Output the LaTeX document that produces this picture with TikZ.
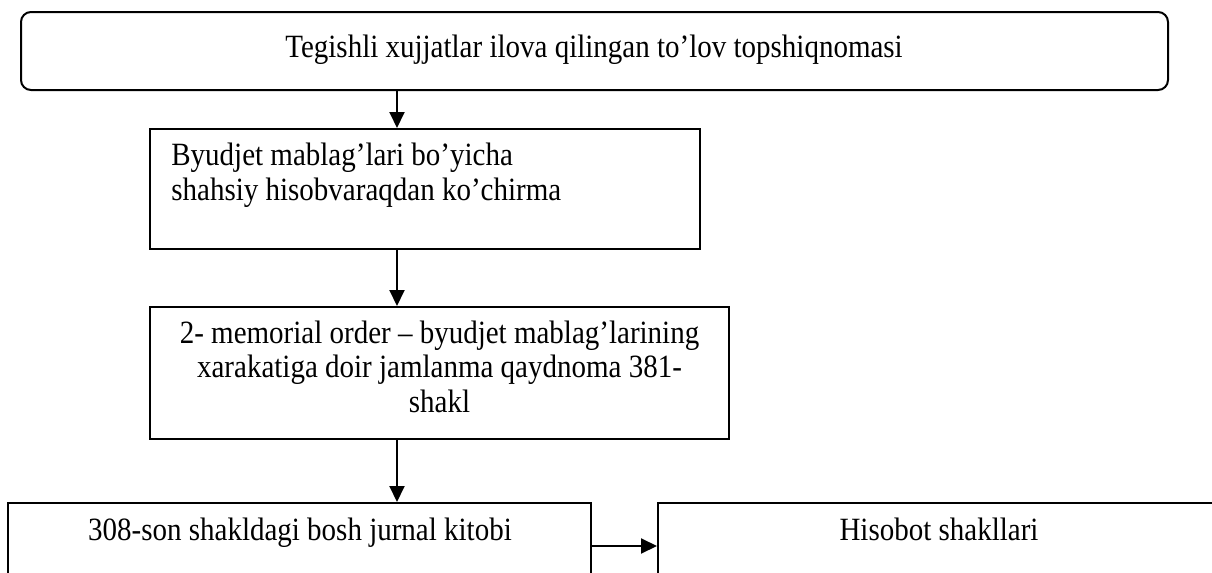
\documentclass[tikz,border=0pt]{standalone}
\usepackage{fontspec}
\setmainfont{Liberation Serif}
\usetikzlibrary{arrows.meta,positioning}
\newcommand{\tall}[1]{\scalebox{1}[1.12]{#1}}
\begin{document}
\begin{tikzpicture}[x=0.5pt,y=-0.5pt,
  box/.style={draw=black,line width=1pt,inner sep=0pt},
  txt/.style={anchor=base,inner sep=0pt,font=\fontsize{14.5}{17.25}\selectfont},
  arr/.style={-{Triangle[length=8pt,width=7.5pt]},line width=1pt}]
\useasboundingbox (0,0) rectangle (1212,573);
% \draw[help lines] (0,0) grid (1212,573);
\node (b1) [box,rounded corners=5pt,minimum width=573.5pt,minimum height=39pt] at (594.5,51) {};
\node (b2) [box,minimum width=275pt,minimum height=60pt] at (425,189) {};
\node (b3) [box,minimum width=289.5pt,minimum height=66pt] at (439.5,373) {};
\node (b4) [box,minimum width=291.5pt,minimum height=68.5pt] at (299.5,571.5) {};
\node (b5) [box,minimum width=281pt,minimum height=68.5pt] at (939,571.5) {};
%
\node (t1) [txt] at (594,57) {\tall{Tegishli xujjatlar ilova qilingan to’lov topshiqnomasi}};
\node (t2) [txt,anchor=base west,align=left] at (171,200) {\tall{Byudjet mablag’lari bo’yicha}\\\tall{shahsiy hisobvaraqdan ko’chirma}};
\node (t3) [txt,align=center] at (439.5,412) {\tall{2- memorial order – byudjet mablag’larining}\\\tall{xarakatiga doir jamlanma qaydnoma 381-}\\\tall{shakl}};
\node (t4) [txt] at (300,540) {\tall{308-son shakldagi bosh jurnal kitobi}};
\node (t5) [txt] at (939,540) {\tall{Hisobot shakllari}};
%
\coordinate (ax) at (397,0);
\coordinate (ay) at (0,546);
\draw[arr] (b1.south -| ax) -- (b2.north -| ax);
\draw[arr] (b2.south -| ax) -- (b3.north -| ax);
\draw[arr] (b3.south -| ax) -- (b4.north -| ax);
\draw[arr] (b4.east |- ay) -- (b5.west |- ay);
\end{tikzpicture}
\end{document}
